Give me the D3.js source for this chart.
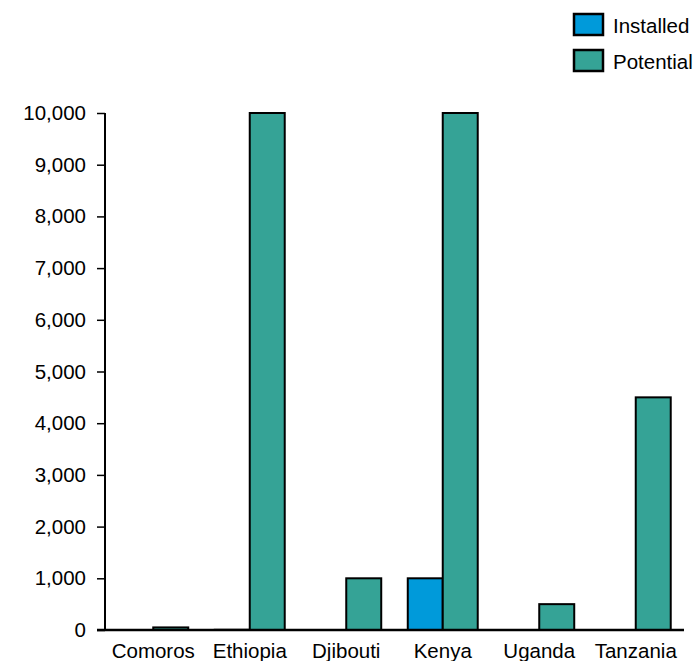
<!DOCTYPE html>
<html>
<head>
<meta charset="utf-8">
<script src="https://cdn.jsdelivr.net/npm/d3@7"></script>
<style>
  html, body { margin: 0; padding: 0; background: #fff; }
  svg { display: block; font-family: "Liberation Sans", Arial, sans-serif; }
</style>
</head>
<body>
<svg id="chart" width="695" height="661"></svg>
<script>
// Geothermal capacity by country (MW)
const countries = ["Comoros", "Ethiopia", "Djibouti", "Kenya", "Uganda", "Tanzania"];
const installed = [0, 7.3, 0, 1000, 0, 0];
const potential = [50, 10000, 1000, 10000, 500, 4500];
const seriesNames = ["Installed", "Potential"];
const seriesColors = ["#009ada", "#35a396"];
const yTicks = [0, 1000, 2000, 3000, 4000, 5000, 6000, 7000, 8000, 9000, 10000];

const svg = d3.select("#chart");
const plotLeft = 105, plotRight = 684, plotTop = 113, plotBottom = 630;
const fontSize = 20.5;

const x = d3.scaleBand().domain(countries).range([plotLeft, plotRight])
  .paddingInner(0.275).paddingOuter(0.1375);
const xs = d3.scaleBand().domain(seriesNames).range([0, x.bandwidth()]);
const y = d3.scaleLinear().domain([0, 10000]).range([plotBottom, plotTop]);

const rows = countries.map((c, i) => ({ country: c, values: [installed[i], potential[i]] }));

// bars
const groups = svg.append("g").selectAll("g").data(rows).join("g")
  .attr("transform", d => `translate(${x(d.country)},0)`);
groups.selectAll("rect")
  .data(d => d.values.map((v, k) => ({ v, k })).filter(e => e.v > 0))
  .join("rect")
  .attr("x", e => xs(seriesNames[e.k]))
  .attr("width", xs.bandwidth())
  .attr("y", e => y(e.v))
  .attr("height", e => y(0) - y(e.v))
  .attr("fill", e => seriesColors[e.k])
  .attr("stroke", e => e.v < 20 ? "#777" : "#000")
  .attr("stroke-width", 2);

// y axis
const yAxis = svg.append("g").attr("transform", `translate(${plotLeft},0)`)
  .call(d3.axisLeft(y).tickValues(yTicks).tickSize(8).tickPadding(11)
    .tickFormat(d3.format(",")));
yAxis.select(".domain").attr("stroke", "#000").attr("stroke-width", 2)
  .attr("d", `M0,${plotTop}V${plotBottom}`);
yAxis.selectAll(".tick line").attr("stroke", "#000").attr("stroke-width", 1.5);
yAxis.selectAll(".tick text").attr("font-size", fontSize).attr("fill", "#000")
  .attr("font-family", "Liberation Sans, Arial, sans-serif");

// x axis
const xAxis = svg.append("g").attr("transform", `translate(0,${plotBottom})`)
  .call(d3.axisBottom(x).tickSize(0).tickPadding(13));
xAxis.select(".domain").attr("stroke", "#000").attr("stroke-width", 2.5)
  .attr("d", `M${plotLeft - 8},0H${plotRight}`);
xAxis.selectAll(".tick text").attr("font-size", fontSize).attr("fill", "#000")
  .attr("font-family", "Liberation Sans, Arial, sans-serif");

// legend
const legend = svg.append("g").attr("transform", "translate(574,14)");
const items = legend.selectAll("g").data(seriesNames).join("g")
  .attr("transform", (d, i) => `translate(0,${i * 36})`);
items.append("rect").attr("width", 29).attr("height", 21)
  .attr("fill", (d, i) => seriesColors[i]).attr("stroke", "#000").attr("stroke-width", 2.5);
items.append("text").attr("x", 39).attr("y", 19).attr("font-size", fontSize).attr("fill", "#000")
  .text(d => d);
</script>
</body>
</html>
